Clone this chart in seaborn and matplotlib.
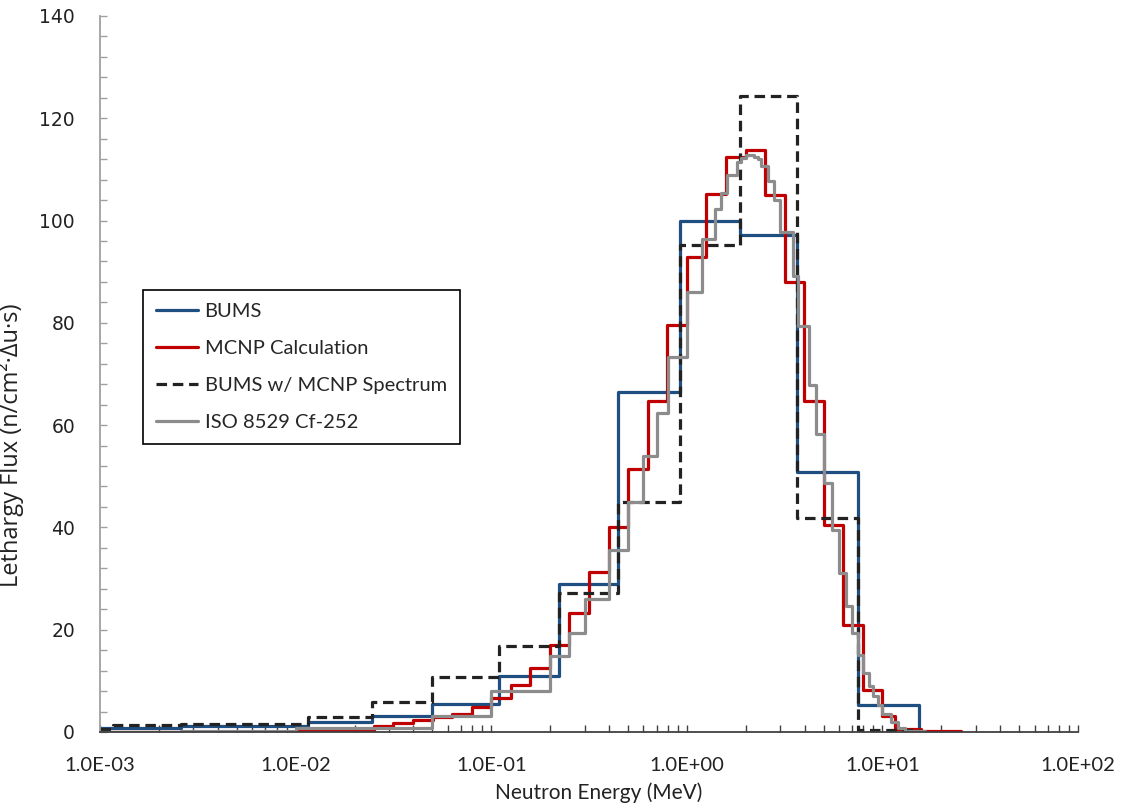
import numpy as np
import pandas as pd
import matplotlib
matplotlib.use("Agg")
import matplotlib.pyplot as plt
import seaborn as sns
from matplotlib.ticker import FuncFormatter, MultipleLocator, LogLocator, NullFormatter, FixedLocator

# ---------------- data (bin edges in MeV, lethargy flux per bin) ----------------
bums_edges = [1.0e-3, 2.6e-3, 1.15e-2, 2.46e-2, 5.0e-2, 1.09e-1, 2.23e-1, 4.46e-1,
              9.18e-1, 1.87, 3.67, 7.5, 15.3]
bums_vals = [0.7, 1.2, 2.0, 3.1, 5.5, 11.0, 28.9, 66.4, 100.0, 97.1, 50.9, 5.2]

bmcnp_edges = [1.0e-3, 1.17e-3, 2.6e-3, 1.15e-2, 2.46e-2, 5.0e-2, 1.09e-1, 2.23e-1,
               4.46e-1, 9.18e-1, 1.87, 3.67, 7.5, 15.3]
bmcnp_vals = [0.5, 1.4, 1.6, 2.9, 5.9, 10.8, 16.9, 27.1, 44.9, 95.3, 124.4, 41.8, 0.3]

mcnp_edges = [1.0e-3, 1.0e-2, 1.26e-2, 1.58e-2, 2.0e-2, 2.51e-2, 3.16e-2, 3.98e-2,
              5.01e-2, 6.31e-2, 7.94e-2, 0.1, 0.126, 0.158, 0.2, 0.251, 0.316, 0.398,
              0.501, 0.631, 0.794, 1.0, 1.26, 1.58, 2.0, 2.51, 3.16, 3.98, 5.01, 6.31,
              7.94, 10.0, 11.6, 15.8, 25.1]
mcnp_vals = [0.05, 0.15, 0.2, 0.35, 0.45, 1.1, 1.7, 2.3, 2.9, 3.6, 4.8, 6.7, 9.2, 12.6,
             17.0, 23.2, 31.2, 40.0, 51.4, 64.8, 79.6, 92.9, 105.2, 112.4, 113.7, 104.9,
             87.9, 64.7, 40.5, 20.9, 8.3, 3.1, 0.5, 0.25]

iso_edges = [1.0e-3, 2.6e-3, 1.0e-2, 5.0e-2, 0.1, 0.2, 0.25, 0.3, 0.4, 0.5, 0.6, 0.7,
             0.8, 1.0, 1.2, 1.4, 1.5, 1.6, 1.8, 1.9, 2.0, 2.2, 2.3, 2.4, 2.6, 2.8, 3.0,
             3.5, 3.7, 4.2, 4.6, 5.0, 5.5, 6.0, 6.5, 7.0, 7.5, 8.0, 8.5, 9.0, 9.5, 10.0,
             11.0, 12.0, 13.0, 16.5]
iso_vals = [0.05, 0.2, 0.7, 3.1, 8.1, 14.9, 19.3, 26.0, 35.5, 44.9, 54.0, 62.3, 73.3,
            86.0, 96.3, 102.3, 105.3, 109.0, 111.5, 112.2, 112.8, 112.5, 112.0, 110.6,
            107.7, 104.0, 97.8, 89.2, 79.3, 67.9, 58.2, 48.6, 39.5, 31.1, 24.6, 19.3,
            15.1, 11.5, 9.0, 7.0, 5.3, 3.6, 2.0, 0.7, 0.2]

series_names = ["BUMS", "MCNP Calculation", "BUMS w/ MCNP Spectrum", "ISO 8529 Cf-252"]
x_tick_values = [1e-3, 1e-2, 1e-1, 1e0, 1e1, 1e2]
y_tick_values = [0, 20, 40, 60, 80, 100, 120, 140]

# ---------------- style ----------------
sns.set_theme(style="white")
plt.rcParams['font.family'] = ['Lato', 'DejaVu Sans']

fig = plt.figure(figsize=(11.28, 8.10), dpi=100)
ax = fig.add_axes([0.0887, 0.0963, 0.8670, 0.8840])


def step_frame(edges, vals):
    return pd.DataFrame({"E": edges, "flux": list(vals) + [0.0]})


specs = [
    (bums_edges, bums_vals, series_names[0], "#1f4e80", "-"),
    (mcnp_edges, mcnp_vals, series_names[1], "#c00000", "-"),
    (bmcnp_edges, bmcnp_vals, series_names[2], "#222222", (0, (3.3, 1.8))),
    (iso_edges, iso_vals, series_names[3], "#8c8c8c", "-"),
]

for edges, vals, name, col, ls in specs:
    df = step_frame(edges, vals)
    sns.lineplot(data=df, x="E", y="flux", ax=ax, color=col, linewidth=2.3,
                 drawstyle="steps-post", estimator=None, sort=False,
                 linestyle=ls, label=name)

ax.set_xscale("log")
ax.set_xlim(1e-3, 1e2)
ax.set_ylim(0, 140)

ax.xaxis.set_major_locator(FixedLocator(x_tick_values))
ax.xaxis.set_minor_locator(LogLocator(base=10, subs=np.arange(2, 10), numticks=20))
ax.xaxis.set_minor_formatter(NullFormatter())
ax.xaxis.set_major_formatter(FuncFormatter(lambda v, p: f"{v:.1E}"))
ax.yaxis.set_major_locator(FixedLocator(y_tick_values))
ax.yaxis.set_minor_locator(MultipleLocator(4))

for s in ["top", "right"]:
    ax.spines[s].set_visible(False)
ax.spines["left"].set_color("#a0a0a0")
ax.spines["left"].set_linewidth(1.3)
ax.spines["bottom"].set_color("#404040")
ax.spines["bottom"].set_linewidth(1.3)

ax.tick_params(axis="y", which="both", direction="in", length=5, width=1,
               color="#a0a0a0", left=True, pad=18)
ax.tick_params(axis="x", which="both", direction="in", length=5, width=1,
               color="#404040", bottom=True, pad=18)
for lab in ax.get_yticklabels():
    lab.set_fontfamily("DejaVu Sans")
    lab.set_fontsize(13.5)
    lab.set_color("#222222")
for lab in ax.get_xticklabels():
    lab.set_fontfamily(["Lato", "DejaVu Sans"])
    lab.set_fontsize(14.5)
    lab.set_color("#222222")

ax.set_xlabel("Neutron Energy (MeV)", fontsize=15, color="#222222")
ax.set_ylabel("Lethargy Flux (n/cm²·Δu·s)", fontsize=17,
              family=["Open Sans", "DejaVu Sans"], color="#222222")
ax.xaxis.set_label_coords(0.51, -0.070)
ax.yaxis.set_label_coords(-0.078, 0.40)

ax.grid(False)
leg = ax.legend(loc="upper left", bbox_to_anchor=(0.044, 0.617), borderaxespad=0,
                fontsize=14.5, frameon=True, fancybox=False, framealpha=1,
                edgecolor="black", handlelength=2.1, handletextpad=0.3,
                labelspacing=0.98, borderpad=0.65)
leg.get_frame().set_linewidth(1.2)

fig.savefig("out.png", dpi=100)
